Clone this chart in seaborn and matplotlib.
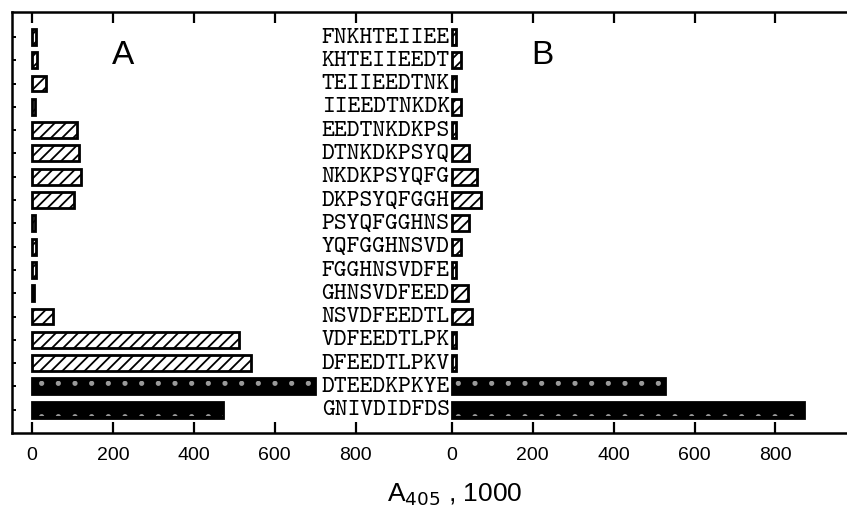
import numpy as np
import pandas as pd
import seaborn as sns
import matplotlib.pyplot as plt

peptides = ['FNKHTEIIEE', 'KHTEIIEEDT', 'TEIIEEDTNK', 'IIEEDTNKDK', 'EEDTNKDKPS',
            'DTNKDKPSYQ', 'NKDKPSYQFG', 'DKPSYQFGGH', 'PSYQFGGHNS', 'YQFGGHNSVD',
            'FGGHNSVDFE', 'GHNSVDFEED', 'NSVDFEEDTL', 'VDFEEDTLPK', 'DFEEDTLPKV',
            'DTEEDKPKYE', 'GNIVDIDFDS']
a405_A = [10, 12, 35, 8, 112, 117, 120, 104, 8, 10, 10, 6, 53, 511, 542, 700, 473]
a405_B = [10, 23, 10, 23, 10, 43, 61, 71, 43, 23, 11, 41, 51, 11, 11, 526, 870]
# last two peptides are drawn solid black, the rest hatched
solid = [False] * 15 + [True, True]
tick_vals = [0, 200, 400, 600, 800]

B_OFFSET = 1038

df = pd.DataFrame({'peptide': peptides, 'A': a405_A, 'B': a405_B})

sns.set_style('white')
plt.rcParams['font.family'] = ['Liberation Sans', 'DejaVu Sans']
plt.rcParams['hatch.linewidth'] = 1.3
for k in ['text.color', 'axes.labelcolor', 'xtick.color', 'ytick.color']:
    plt.rcParams[k] = 'black'

fig = plt.figure(figsize=(8.47, 5.07), dpi=100)
ax = fig.add_axes([12 / 847, 1 - 433 / 507, 1 - 12 / 847, (433 - 12) / 507])

bar_kw = dict(orient='h', order=peptides, width=0.68, color='white',
              edgecolor='black', linewidth=2.0)
sns.barplot(data=df, x='A', y='peptide', ax=ax, **bar_kw)
sns.barplot(data=df, x='B', y='peptide', ax=ax, left=B_OFFSET, **bar_kw)

for cont in ax.containers:
    for patch, s in zip(cont.patches, solid):
        if s:
            patch.set_facecolor('black')
        else:
            patch.set_facecolor('white')
            patch.set_hatch('///')

# sparse grey dots on the solid bars
dot_kw = dict(orient='h', order=peptides, width=0.5, color='white', facecolor='none',
              edgecolor='#9a9a9a', linewidth=0)
sns.barplot(data=df, x='A', y='peptide', ax=ax, **dot_kw)
sns.barplot(data=df, x='B', y='peptide', ax=ax, left=B_OFFSET, **dot_kw)
for cont in ax.containers[2:]:
    for patch, s in zip(cont.patches, solid):
        if s:
            patch.set_hatch('.')
        else:
            patch.remove()

for i, p in enumerate(peptides):
    ax.text(B_OFFSET - 5, i + 0.05, p, ha='right', va='center', fontsize=17.5,
            family=['cmtt10', 'DejaVu Sans Mono'])

ax.text(225, 0.8, 'A', fontsize=24, ha='center', va='center')
ax.text(B_OFFSET + 225, 0.8, 'B', fontsize=24, ha='center', va='center')

ticks = tick_vals + [B_OFFSET + t for t in tick_vals]
ax.set_xticks(ticks)
ax.set_xticklabels([str(t) for t in tick_vals] * 2, fontsize=14)
ax.set_xlim(-49.4, 2015)
ax.set_yticks(range(len(peptides)))
ax.set_yticklabels([])
ax.set_ylim(17.0, -1.07)
ax.tick_params(axis='x', direction='in', top=True, bottom=True, length=8, width=1.6, pad=10)
ax.tick_params(axis='y', direction='in', left=True, length=3, width=1.4)

for side in ['left', 'top', 'bottom']:
    ax.spines[side].set_linewidth(1.8)
    ax.spines[side].set_color('black')
ax.spines['right'].set_visible(False)

ax.set_ylabel('')
ax.set_xlabel('A$_{405}$ , 1000', fontsize=19)
ax.xaxis.set_label_coords(0.53, -0.115)

fig.savefig('out.png', dpi=100)
